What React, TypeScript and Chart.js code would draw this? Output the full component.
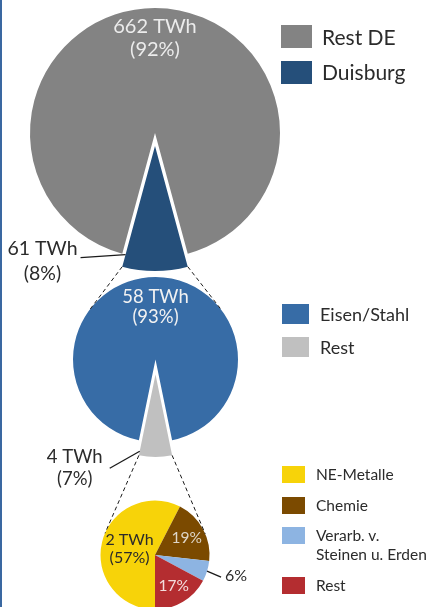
import React, { useEffect, useRef } from "react";
import { Chart, registerables } from "chart.js";

Chart.register(...registerables);

const W = 432;
const H = 607;
const FONT = 'Lato, "Open Sans", sans-serif';
const TEXT_DARK = "#2b2b2b";

// ---- Level 1: Germany
const deLabels = ["Rest DE", "Duisburg"];
const deValues = [662, 61];
const deTexts = [["662 TWh", "(92%)"], ["61 TWh", "(8%)"]];
const deColors = ["#838383", "#254F7A"];

// ---- Level 2: Duisburg
const dbLabels = ["Eisen/Stahl", "Rest"];
const dbValues = [58, 4];
const dbTexts = [["58 TWh", "(93%)"], ["4 TWh", "(7%)"]];
const dbColors = ["#376CA6", "#C0C0C0"];

// ---- Level 3: Rest
const restLabels = ["NE-Metalle", "Chemie", "Verarb. v.\nSteinen u. Erden", "Rest"];
const restValues = [57, 19, 6, 17];
const restTexts = [["2 TWh", "(57%)"], ["19%"], ["6%"], ["17%"]];
const restColors = ["#F7D309", "#7B4A00", "#8DB4E2", "#B42D30"];

type LabelStyle =
  | { kind: "in"; frac: number; color: string; size: number; lh: number }
  | {
      kind: "out";
      edge: "start" | "end" | "mid";
      frac: number;
      line: [number, number];
      text: [number, number];
      color: string;
      size: number;
      lh: number;
    };

function explodePlugin(index: number, dist: number) {
  return {
    id: "explodeSlice",
    afterDatasetUpdate(chart: any) {
      if (index < 0) return;
      const el: any = chart.getDatasetMeta(0).data[index];
      if (!el) return;
      const mid = (el.startAngle + el.endAngle) / 2;
      el.x += Math.cos(mid) * dist;
      el.y += Math.sin(mid) * dist;
    },
  };
}

function labelPlugin(texts: string[][], styles: (LabelStyle | null)[]) {
  return {
    id: "pieLabels",
    afterDatasetsDraw(chart: any) {
      const ctx: CanvasRenderingContext2D = chart.ctx;
      const arcs: any[] = chart.getDatasetMeta(0).data;
      arcs.forEach((arc, i) => {
        const st = styles[i];
        const lines = texts[i];
        if (!st || !lines) return;
        const { x, y, startAngle, endAngle, outerRadius } = arc;
        let tx = 0;
        let ty = 0;
        ctx.save();
        if (st.kind === "in") {
          const mid = (startAngle + endAngle) / 2;
          tx = x + Math.cos(mid) * outerRadius * st.frac;
          ty = y + Math.sin(mid) * outerRadius * st.frac;
        } else {
          const a =
            st.edge === "start" ? startAngle : st.edge === "end" ? endAngle : (startAngle + endAngle) / 2;
          const ax = x + Math.cos(a) * outerRadius * st.frac;
          const ay = y + Math.sin(a) * outerRadius * st.frac;
          ctx.strokeStyle = "#1a1a1a";
          ctx.lineWidth = 1.3;
          ctx.beginPath();
          ctx.moveTo(ax, ay);
          ctx.lineTo(ax + st.line[0], ay + st.line[1]);
          ctx.stroke();
          tx = ax + st.text[0];
          ty = ay + st.text[1];
        }
        ctx.font = `${st.size}px ${FONT}`;
        ctx.fillStyle = st.color;
        ctx.textAlign = "center";
        ctx.textBaseline = "middle";
        const n = lines.length;
        lines.forEach((ln, k) => ctx.fillText(ln, tx, ty + (k - (n - 1) / 2) * st.lh));
        ctx.restore();
      });
    },
  };
}

function connectorPlugin(getPrev: () => any, prevIndex: number) {
  return {
    id: "zoomConnector",
    afterDatasetsDraw(chart: any) {
      const prev = getPrev();
      if (!prev) return;
      const src: any = prev.getDatasetMeta(0).data[prevIndex];
      const tgt: any = chart.getDatasetMeta(0).data[0];
      if (!src || !tgt) return;
      const cx = tgt.x;
      const cy = tgt.y;
      const r = tgt.outerRadius;
      const corners = [src.startAngle, src.endAngle]
        .map((a: number) => ({ x: src.x + Math.cos(a) * src.outerRadius, y: src.y + Math.sin(a) * src.outerRadius }))
        .sort((a: any, b: any) => a.x - b.x);
      const ctx: CanvasRenderingContext2D = chart.ctx;
      ctx.save();
      ctx.strokeStyle = "#1a1a1a";
      ctx.lineWidth = 1;
      ctx.setLineDash([4, 3]);
      corners.forEach((p: any, k: number) => {
        const dx = p.x - cx;
        const dy = p.y - cy;
        const d = Math.hypot(dx, dy);
        const th = Math.atan2(dy, dx);
        const al = Math.acos(Math.min(1, r / d));
        const q1 = { x: cx + r * Math.cos(th - al), y: cy + r * Math.sin(th - al) };
        const q2 = { x: cx + r * Math.cos(th + al), y: cy + r * Math.sin(th + al) };
        const q = k === 0 ? (q1.x < q2.x ? q1 : q2) : q1.x > q2.x ? q1 : q2;
        ctx.beginPath();
        ctx.moveTo(p.x, p.y);
        ctx.lineTo(q.x, q.y);
        ctx.stroke();
      });
      ctx.restore();
    },
  };
}

function makePie(
  canvas: HTMLCanvasElement,
  labels: string[],
  values: number[],
  colors: string[],
  cx: number,
  cy: number,
  radius: number,
  rotation: number,
  plugins: any[]
) {
  const s = 10;
  return new Chart(canvas, {
    type: "pie",
    data: {
      labels,
      datasets: [
        {
          data: values,
          backgroundColor: colors,
          borderWidth: 0,
          hoverOffset: 0,
        },
      ],
    },
    options: {
      responsive: false,
      animation: false,
      events: [],
      rotation,
      radius,
      layout: { padding: { left: cx - s, right: W - cx - s, top: cy - s, bottom: H - cy - s } },
      plugins: { legend: { display: false }, tooltip: { enabled: false } },
    } as any,
    plugins,
  });
}

function explodedRotation(values: number[], index: number) {
  const total = values.reduce((a, b) => a + b, 0);
  const ang = (values[index] / total) * 360;
  return 180 + ang / 2;
}

type LegendCfg = {
  labels: string[];
  colors: string[];
  x: number;
  y0: number;
  gap: number;
  boxW: number;
  boxH: number;
  textX: number;
  size: number;
  lh: number;
};

const legends: LegendCfg[] = [
  { labels: deLabels, colors: deColors, x: 281, y0: 36.5, gap: 35.5, boxW: 31, boxH: 23, textX: 322, size: 21, lh: 24 },
  { labels: dbLabels, colors: dbColors, x: 282, y0: 314, gap: 33, boxW: 27, boxH: 20, textX: 320, size: 18, lh: 22 },
  { labels: restLabels, colors: restColors, x: 282, y0: 474.5, gap: 30.5, boxW: 23, boxH: 17, textX: 316, size: 15.5, lh: 19 },
];

function Legend({ cfg }: { cfg: LegendCfg }) {
  let cy = cfg.y0;
  const items = cfg.labels.map((lab, i) => {
    const lines = lab.split("\n").length;
    const myCy = cy;
    cy += cfg.gap + (lines - 1) * cfg.lh;
    return (
      <React.Fragment key={i}>
        <div
          style={{
            position: "absolute",
            left: cfg.x,
            top: myCy - cfg.boxH / 2,
            width: cfg.boxW,
            height: cfg.boxH,
            background: cfg.colors[i],
          }}
        />
        <div
          style={{
            position: "absolute",
            left: cfg.textX,
            top: myCy - cfg.lh / 2,
            fontFamily: FONT,
            fontSize: cfg.size,
            lineHeight: `${cfg.lh}px`,
            color: TEXT_DARK,
            whiteSpace: "pre",
          }}
        >
          {lab}
        </div>
      </React.Fragment>
    );
  });
  return <>{items}</>;
}

export default function App() {
  const c1 = useRef<HTMLCanvasElement>(null);
  const c2 = useRef<HTMLCanvasElement>(null);
  const c3 = useRef<HTMLCanvasElement>(null);

  useEffect(() => {
    let ch1: any = null;
    let ch2: any = null;
    let ch3: any = null;

    ch1 = makePie(c1.current!, deLabels, deValues, deColors, 155, 133, 125, explodedRotation(deValues, 1), [
      explodePlugin(1, 13),
      labelPlugin(deTexts, [
        { kind: "in", frac: 0.76, color: "#ececec", size: 20, lh: 23 },
        { kind: "out", edge: "end", frac: 0.9, line: [-45, 3], text: [-83, 6.5], color: TEXT_DARK, size: 19.5, lh: 25 },
      ]),
    ]);

    ch2 = makePie(c2.current!, dbLabels, dbValues, dbColors, 155.5, 359.5, 82.5, explodedRotation(dbValues, 1), [
      explodePlugin(1, 15),
      connectorPlugin(() => ch1, 1),
      labelPlugin(dbTexts, [
        { kind: "in", frac: 0.64, color: "#f2f2f2", size: 18.5, lh: 20 },
        { kind: "out", edge: "end", frac: 0.95, line: [-30, 17], text: [-65, 17], color: TEXT_DARK, size: 18.5, lh: 22 },
      ]),
    ]);

    ch3 = makePie(c3.current!, restLabels, restValues, restColors, 155, 555, 54.5, 180, [
      connectorPlugin(() => ch2, 1),
      labelPlugin(restTexts, [
        { kind: "in", frac: 0.48, color: "#2b2b2b", size: 16, lh: 18 },
        { kind: "in", frac: 0.66, color: "#ded6c8", size: 15.5, lh: 18 },
        { kind: "out", edge: "mid", frac: 1.0, line: [14, 6], text: [29, 5], color: TEXT_DARK, size: 16, lh: 18 },
        { kind: "in", frac: 0.67, color: "#f3dede", size: 15.5, lh: 18 },
      ]),
    ]);

    return () => {
      ch3 && ch3.destroy();
      ch2 && ch2.destroy();
      ch1 && ch1.destroy();
    };
  }, []);

  const canvasStyle: React.CSSProperties = { position: "absolute", left: 0, top: 0 };

  return (
    <div
      style={{
        position: "fixed",
        left: 0,
        top: 0,
        width: W,
        height: H,
        overflow: "hidden",
        background: "#ffffff",
      }}
    >
      <canvas ref={c1} width={W} height={H} style={canvasStyle} />
      <canvas ref={c2} width={W} height={H} style={canvasStyle} />
      <canvas ref={c3} width={W} height={H} style={canvasStyle} />
      {legends.map((cfg, i) => (
        <Legend key={i} cfg={cfg} />
      ))}
      <div style={{ position: "absolute", left: 0, top: 0, width: 2, height: H, background: "#3A68A1" }} />
    </div>
  );
}
